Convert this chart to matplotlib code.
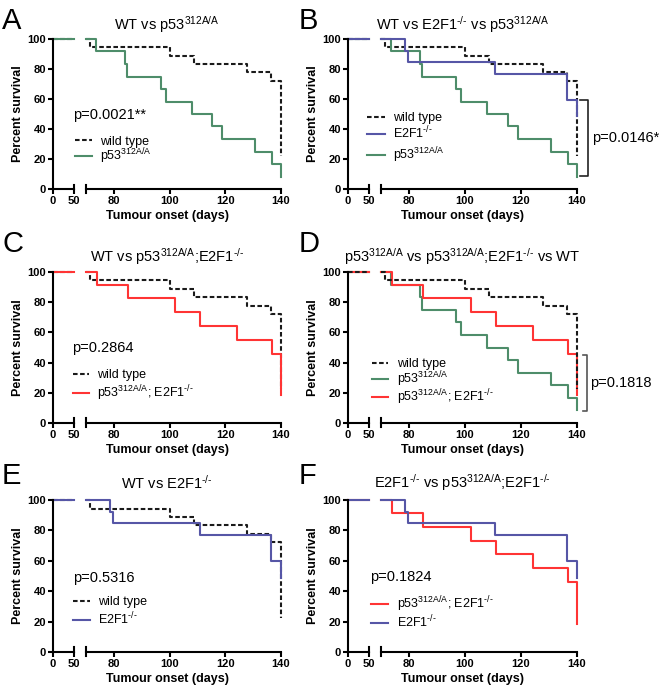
import matplotlib
matplotlib.use("Agg")
import matplotlib.pyplot as plt
from matplotlib.lines import Line2D
from matplotlib.transforms import blended_transform_factory

plt.rcParams['font.family'] = ['Liberation Sans', 'DejaVu Sans']
plt.rcParams['mathtext.fontset'] = 'custom'
plt.rcParams['mathtext.rm'] = 'Liberation Sans'
plt.rcParams['mathtext.it'] = 'Liberation Sans'
plt.rcParams['mathtext.bf'] = 'Liberation Sans:bold'
plt.rcParams['mathtext.default'] = 'regular'

# ---------------- data (Kaplan-Meier step points: time in days, % survival) ----------------
wt_t = [0, 71.5, 100, 108.7, 127.8, 136.5, 140]
wt_s = [100, 94.4, 88.9, 83.3, 77.8, 72.2, 22.2]

p53_t = [0, 73.7, 83.9, 84.8, 96.8, 98.6, 107.9, 115.3, 118.9, 130.6, 136.7, 140]
p53_s = [100, 91.7, 83.3, 75.0, 66.7, 58.3, 50.0, 41.7, 33.3, 25.0, 16.7, 8.3]

e2f1_t = [0, 78.7, 79.8, 110.8, 136.5, 140]
e2f1_s = [100, 92.3, 84.6, 76.9, 59.6, 49.0]

dko_t = [0, 74.0, 85.0, 102.0, 111.1, 124.3, 136.9, 140]
dko_s = [100, 91.7, 82.5, 73.3, 64.2, 55.0, 45.8, 18.3]

y_ticks = [0, 20, 40, 60, 80, 100]
x_ticks_left = [0, 50]
x_ticks_right = [80, 100, 120, 140]

SUP_P53 = r'p53$^{312A/A}$'
SUP_E2F1 = r'E2F1$^{\text{-/-}}$'

series = {
    'wt': dict(t=wt_t, s=wt_s, color='#1a1a1a', ls=(0, (2.2, 1.2)), label='wild type'),
    'p53': dict(t=p53_t, s=p53_s, color='#4e8d6a', ls='-', label=SUP_P53),
    'e2f1': dict(t=e2f1_t, s=e2f1_s, color='#5656a6', ls='-', label=SUP_E2F1),
    'dko': dict(t=dko_t, s=dko_s, color='#ff3434', ls='-', label=SUP_P53 + '; ' + SUP_E2F1),
}

W, H = 666, 692
fig = plt.figure(figsize=(W / 100, H / 100), dpi=100)

def fx(px):
    return px / W

def fy(py):
    return 1 - py / H

LW = 1.5

panels = [
    dict(letter='A', col=0, row=0, title=r'WT vs p53$^{312A/A}$',
         draw=['wt', 'p53'], legend=['wt', 'p53'],
         ptext='p=0.0021**', ppos=(73, 115),
         leg=(75, 92, 100, [140, 156]), bracket=None),
    dict(letter='B', col=1, row=0, title=r'WT vs E2F1$^{\text{-/-}}$ vs p53$^{312A/A}$',
         draw=['wt', 'p53', 'e2f1'], legend=['wt', 'e2f1', 'p53'],
         ptext='p=0.0146*', ppos=None,
         leg=(367, 385, 393, [117, 134, 155]),
         bracket=dict(top=59.3, bot=8.9, xv=588, xt=580, tx=592, color='#222222')),
    dict(letter='C', col=0, row=1, title=r'WT vs p53$^{312A/A}$;E2F1$^{\text{-/-}}$',
         draw=['wt', 'dko'], legend=['wt', 'dko'],
         ptext='p=0.2864', ppos=(72, 348),
         leg=(73, 89, 97, [374, 393]), bracket=None),
    dict(letter='D', col=1, row=1, title=r'p53$^{312A/A}$ vs p53$^{312A/A}$;E2F1$^{\text{-/-}}$ vs WT',
         draw=['p53', 'dko', 'wt'], legend=['wt', 'p53', 'dko'],
         ptext='p=0.1818', ppos=None,
         leg=(372, 388, 397, [363, 379, 397]),
         bracket=dict(top=45.3, bot=7.7, xv=587, xt=583, tx=590, color='#555555')),
    dict(letter='E', col=0, row=2, title=r'WT vs E2F1$^{\text{-/-}}$',
         draw=['wt', 'e2f1'], legend=['wt', 'e2f1'],
         ptext='p=0.5316', ppos=(73, 578),
         leg=(73, 90, 98, [601, 620]), bracket=None),
    dict(letter='F', col=1, row=2, title=r'E2F1$^{\text{-/-}}$ vs p53$^{312A/A}$;E2F1$^{\text{-/-}}$',
         draw=['dko', 'e2f1'], legend=['dko', 'e2f1'],
         ptext='p=0.1824', ppos=(370, 577),
         leg=(371, 388, 397, [604, 623]), bracket=None),
]

cols = [(53, 281), (348, 577)]
rows = [(39, 189), (272, 423), (500, 652)]
title_y = [25, 257, 483]
letter_y = [21, 244, 476]
letter_x = [2, 299]

for p in panels:
    x0, x1 = cols[p['col']]
    ytop, ybot = rows[p['row']]
    h = ybot - ytop
    ax1 = fig.add_axes([fx(x0), fy(ybot), fx(21), h / H])
    ax2 = fig.add_axes([fx(x0 + 33), fy(ybot), fx(x1 - x0 - 33), h / H])
    ax1.set_xlim(0, 50)
    ax2.set_xlim(70, 140)
    ax1.set_yticks(y_ticks)
    ax1.set_xticks(x_ticks_left)
    ax2.set_xticks(x_ticks_right)
    ax2.set_yticks([])
    for ax in (ax1, ax2):
        ax.set_ylim(0, 100)
        ax.patch.set_visible(False)
        for sp in ('top', 'right'):
            ax.spines[sp].set_visible(False)
        for sp in ('left', 'bottom'):
            ax.spines[sp].set_linewidth(LW)
        ax.tick_params(width=LW, length=3.5, labelsize=8, pad=1.5)
        for lab in ax.get_xticklabels() + ax.get_yticklabels():
            lab.set_fontweight('bold')
    ax2.spines['left'].set_visible(False)
    # break marks
    ax1.plot([1, 1], [0, 0.03], transform=ax1.transAxes, color='black', lw=LW, clip_on=False)
    ax2.plot([0, 0], [-0.027, 0.03], transform=ax2.transAxes, color='black', lw=LW, clip_on=False)

    for key in p['draw']:
        d = series[key]
        t, s = d['t'], d['s']
        t1 = [tt for tt in t if tt <= 50]
        s1 = [s[i] for i, tt in enumerate(t) if tt <= 50]
        ax1.step(t1 + [50], s1 + [s1[-1]], where='post', color=d['color'], ls=d['ls'],
                 lw=LW, clip_on=False)
        s70 = [s[i] for i, tt in enumerate(t) if tt <= 70][-1]
        t2 = [70] + [tt for tt in t if tt > 70]
        s2 = [s70] + [s[i] for i, tt in enumerate(t) if tt > 70]
        ax2.step(t2, s2, where='post', color=d['color'], ls=d['ls'], lw=LW, clip_on=False)

    # titles and labels
    xm = (x0 + x1) / 2
    fig.text(fx(xm), fy(title_y[p['row']]), p['title'], ha='center', va='center', fontsize=10.5)
    fig.text(fx(xm), fy(ybot + 27), 'Tumour onset (days)', ha='center', va='center',
             fontsize=9, fontweight='bold')
    fig.text(fx(x0 - 35), fy((ytop + ybot) / 2), 'Percent survival', ha='center', va='center',
             rotation=90, fontsize=9, fontweight='bold')
    fig.text(fx(letter_x[p['col']]), fy(letter_y[p['row']]), p['letter'], ha='left', va='center',
             fontsize=21)

    # legend
    lx0, lx1, tx, rys = p['leg']
    for key, ry in zip(p['legend'], rys):
        d = series[key]
        fig.add_artist(Line2D([fx(lx0), fx(lx1)], [fy(ry), fy(ry)], color=d['color'],
                              ls=d['ls'], lw=LW, transform=fig.transFigure))
        fig.text(fx(tx), fy(ry + 4.5), d['label'], ha='left', va='baseline', fontsize=9)

    # p value
    if p['bracket'] is None:
        px, py = p['ppos']
        fig.text(fx(px), fy(py), p['ptext'], ha='left', va='center', fontsize=10.5)
    else:
        b = p['bracket']
        tr = blended_transform_factory(fig.transFigure, ax2.transData)
        fig.add_artist(Line2D([fx(b['xt']), fx(b['xv']), fx(b['xv']), fx(b['xt'])],
                              [b['top'], b['top'], b['bot'], b['bot']],
                              color=b['color'], lw=1.2, transform=tr))
        fig.text(fx(b['tx']), (b['top'] + b['bot']) / 2, p['ptext'], transform=tr,
                 ha='left', va='center', fontsize=10.5)

fig.savefig('out.png', dpi=100)
